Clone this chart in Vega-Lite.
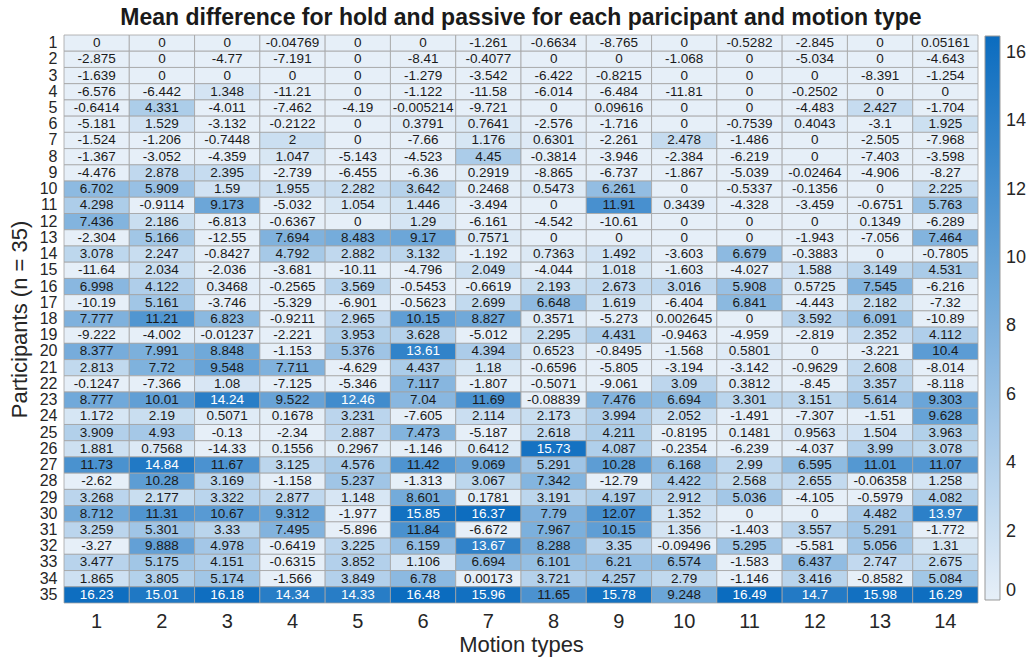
{
  "$schema": "https://vega.github.io/schema/vega-lite/v6.json",
  "autosize": {"type": "none"},
  "width": 914,
  "height": 568,
  "padding": {"left": 64, "top": 35, "right": 52, "bottom": 57},
  "background": "white",
  "config": {
    "font": "Liberation Sans",
    "view": {"stroke": null}
  },
  "title": {
    "text": "Mean difference for hold and passive for each paricipant and motion type",
    "fontSize": 23,
    "fontWeight": "bold",
    "font": "Liberation Sans",
    "color": "#1a1a1a",
    "anchor": "middle",
    "offset": 5
  },
  "data": {
    "values": [
      {"p":1,"m":1,"v":0},{"p":1,"m":2,"v":0},{"p":1,"m":3,"v":0},{"p":1,"m":4,"v":-0.04769},{"p":1,"m":5,"v":0},{"p":1,"m":6,"v":0},{"p":1,"m":7,"v":-1.261},{"p":1,"m":8,"v":-0.6634},{"p":1,"m":9,"v":-8.765},{"p":1,"m":10,"v":0},{"p":1,"m":11,"v":-0.5282},{"p":1,"m":12,"v":-2.845},{"p":1,"m":13,"v":0},{"p":1,"m":14,"v":0.05161},
      {"p":2,"m":1,"v":-2.875},{"p":2,"m":2,"v":0},{"p":2,"m":3,"v":-4.77},{"p":2,"m":4,"v":-7.191},{"p":2,"m":5,"v":0},{"p":2,"m":6,"v":-8.41},{"p":2,"m":7,"v":-0.4077},{"p":2,"m":8,"v":0},{"p":2,"m":9,"v":0},{"p":2,"m":10,"v":-1.068},{"p":2,"m":11,"v":0},{"p":2,"m":12,"v":-5.034},{"p":2,"m":13,"v":0},{"p":2,"m":14,"v":-4.643},
      {"p":3,"m":1,"v":-1.639},{"p":3,"m":2,"v":0},{"p":3,"m":3,"v":0},{"p":3,"m":4,"v":0},{"p":3,"m":5,"v":0},{"p":3,"m":6,"v":-1.279},{"p":3,"m":7,"v":-3.542},{"p":3,"m":8,"v":-6.422},{"p":3,"m":9,"v":-0.8215},{"p":3,"m":10,"v":0},{"p":3,"m":11,"v":0},{"p":3,"m":12,"v":0},{"p":3,"m":13,"v":-8.391},{"p":3,"m":14,"v":-1.254},
      {"p":4,"m":1,"v":-6.576},{"p":4,"m":2,"v":-6.442},{"p":4,"m":3,"v":1.348},{"p":4,"m":4,"v":-11.21},{"p":4,"m":5,"v":0},{"p":4,"m":6,"v":-1.122},{"p":4,"m":7,"v":-11.58},{"p":4,"m":8,"v":-6.014},{"p":4,"m":9,"v":-6.484},{"p":4,"m":10,"v":-11.81},{"p":4,"m":11,"v":0},{"p":4,"m":12,"v":-0.2502},{"p":4,"m":13,"v":0},{"p":4,"m":14,"v":0},
      {"p":5,"m":1,"v":-0.6414},{"p":5,"m":2,"v":4.331},{"p":5,"m":3,"v":-4.011},{"p":5,"m":4,"v":-7.462},{"p":5,"m":5,"v":-4.19},{"p":5,"m":6,"v":-0.005214},{"p":5,"m":7,"v":-9.721},{"p":5,"m":8,"v":0},{"p":5,"m":9,"v":0.09616},{"p":5,"m":10,"v":0},{"p":5,"m":11,"v":0},{"p":5,"m":12,"v":-4.483},{"p":5,"m":13,"v":2.427},{"p":5,"m":14,"v":-1.704},
      {"p":6,"m":1,"v":-5.181},{"p":6,"m":2,"v":1.529},{"p":6,"m":3,"v":-3.132},{"p":6,"m":4,"v":-0.2122},{"p":6,"m":5,"v":0},{"p":6,"m":6,"v":0.3791},{"p":6,"m":7,"v":0.7641},{"p":6,"m":8,"v":-2.576},{"p":6,"m":9,"v":-1.716},{"p":6,"m":10,"v":0},{"p":6,"m":11,"v":-0.7539},{"p":6,"m":12,"v":0.4043},{"p":6,"m":13,"v":-3.1},{"p":6,"m":14,"v":1.925},
      {"p":7,"m":1,"v":-1.524},{"p":7,"m":2,"v":-1.206},{"p":7,"m":3,"v":-0.7448},{"p":7,"m":4,"v":2},{"p":7,"m":5,"v":0},{"p":7,"m":6,"v":-7.66},{"p":7,"m":7,"v":1.176},{"p":7,"m":8,"v":0.6301},{"p":7,"m":9,"v":-2.261},{"p":7,"m":10,"v":2.478},{"p":7,"m":11,"v":-1.486},{"p":7,"m":12,"v":0},{"p":7,"m":13,"v":-2.505},{"p":7,"m":14,"v":-7.968},
      {"p":8,"m":1,"v":-1.367},{"p":8,"m":2,"v":-3.052},{"p":8,"m":3,"v":-4.359},{"p":8,"m":4,"v":1.047},{"p":8,"m":5,"v":-5.143},{"p":8,"m":6,"v":-4.523},{"p":8,"m":7,"v":4.45},{"p":8,"m":8,"v":-0.3814},{"p":8,"m":9,"v":-3.946},{"p":8,"m":10,"v":-2.384},{"p":8,"m":11,"v":-6.219},{"p":8,"m":12,"v":0},{"p":8,"m":13,"v":-7.403},{"p":8,"m":14,"v":-3.598},
      {"p":9,"m":1,"v":-4.476},{"p":9,"m":2,"v":2.878},{"p":9,"m":3,"v":2.395},{"p":9,"m":4,"v":-2.739},{"p":9,"m":5,"v":-6.455},{"p":9,"m":6,"v":-6.36},{"p":9,"m":7,"v":0.2919},{"p":9,"m":8,"v":-8.865},{"p":9,"m":9,"v":-6.737},{"p":9,"m":10,"v":-1.867},{"p":9,"m":11,"v":-5.039},{"p":9,"m":12,"v":-0.02464},{"p":9,"m":13,"v":-4.906},{"p":9,"m":14,"v":-8.27},
      {"p":10,"m":1,"v":6.702},{"p":10,"m":2,"v":5.909},{"p":10,"m":3,"v":1.59},{"p":10,"m":4,"v":1.955},{"p":10,"m":5,"v":2.282},{"p":10,"m":6,"v":3.642},{"p":10,"m":7,"v":0.2468},{"p":10,"m":8,"v":0.5473},{"p":10,"m":9,"v":6.261},{"p":10,"m":10,"v":0},{"p":10,"m":11,"v":-0.5337},{"p":10,"m":12,"v":-0.1356},{"p":10,"m":13,"v":0},{"p":10,"m":14,"v":2.225},
      {"p":11,"m":1,"v":4.298},{"p":11,"m":2,"v":-0.9114},{"p":11,"m":3,"v":9.173},{"p":11,"m":4,"v":-5.032},{"p":11,"m":5,"v":1.054},{"p":11,"m":6,"v":1.446},{"p":11,"m":7,"v":-3.494},{"p":11,"m":8,"v":0},{"p":11,"m":9,"v":11.91},{"p":11,"m":10,"v":0.3439},{"p":11,"m":11,"v":-4.328},{"p":11,"m":12,"v":-3.459},{"p":11,"m":13,"v":-0.6751},{"p":11,"m":14,"v":5.763},
      {"p":12,"m":1,"v":7.436},{"p":12,"m":2,"v":2.186},{"p":12,"m":3,"v":-6.813},{"p":12,"m":4,"v":-0.6367},{"p":12,"m":5,"v":0},{"p":12,"m":6,"v":1.29},{"p":12,"m":7,"v":-6.161},{"p":12,"m":8,"v":-4.542},{"p":12,"m":9,"v":-10.61},{"p":12,"m":10,"v":0},{"p":12,"m":11,"v":0},{"p":12,"m":12,"v":0},{"p":12,"m":13,"v":0.1349},{"p":12,"m":14,"v":-6.289},
      {"p":13,"m":1,"v":-2.304},{"p":13,"m":2,"v":5.166},{"p":13,"m":3,"v":-12.55},{"p":13,"m":4,"v":7.694},{"p":13,"m":5,"v":8.483},{"p":13,"m":6,"v":9.17},{"p":13,"m":7,"v":0.7571},{"p":13,"m":8,"v":0},{"p":13,"m":9,"v":0},{"p":13,"m":10,"v":0},{"p":13,"m":11,"v":0},{"p":13,"m":12,"v":-1.943},{"p":13,"m":13,"v":-7.056},{"p":13,"m":14,"v":7.464},
      {"p":14,"m":1,"v":3.078},{"p":14,"m":2,"v":2.247},{"p":14,"m":3,"v":-0.8427},{"p":14,"m":4,"v":4.792},{"p":14,"m":5,"v":2.882},{"p":14,"m":6,"v":3.132},{"p":14,"m":7,"v":-1.192},{"p":14,"m":8,"v":0.7363},{"p":14,"m":9,"v":1.492},{"p":14,"m":10,"v":-3.603},{"p":14,"m":11,"v":6.679},{"p":14,"m":12,"v":-0.3883},{"p":14,"m":13,"v":0},{"p":14,"m":14,"v":-0.7805},
      {"p":15,"m":1,"v":-11.64},{"p":15,"m":2,"v":2.034},{"p":15,"m":3,"v":-2.036},{"p":15,"m":4,"v":-3.681},{"p":15,"m":5,"v":-10.11},{"p":15,"m":6,"v":-4.796},{"p":15,"m":7,"v":2.049},{"p":15,"m":8,"v":-4.044},{"p":15,"m":9,"v":1.018},{"p":15,"m":10,"v":-1.603},{"p":15,"m":11,"v":-4.027},{"p":15,"m":12,"v":1.588},{"p":15,"m":13,"v":3.149},{"p":15,"m":14,"v":4.531},
      {"p":16,"m":1,"v":6.998},{"p":16,"m":2,"v":4.122},{"p":16,"m":3,"v":0.3468},{"p":16,"m":4,"v":-0.2565},{"p":16,"m":5,"v":3.569},{"p":16,"m":6,"v":-0.5453},{"p":16,"m":7,"v":-0.6619},{"p":16,"m":8,"v":2.193},{"p":16,"m":9,"v":2.673},{"p":16,"m":10,"v":3.016},{"p":16,"m":11,"v":5.908},{"p":16,"m":12,"v":0.5725},{"p":16,"m":13,"v":7.545},{"p":16,"m":14,"v":-6.216},
      {"p":17,"m":1,"v":-10.19},{"p":17,"m":2,"v":5.161},{"p":17,"m":3,"v":-3.746},{"p":17,"m":4,"v":-5.329},{"p":17,"m":5,"v":-6.901},{"p":17,"m":6,"v":-0.5623},{"p":17,"m":7,"v":2.699},{"p":17,"m":8,"v":6.648},{"p":17,"m":9,"v":1.619},{"p":17,"m":10,"v":-6.404},{"p":17,"m":11,"v":6.841},{"p":17,"m":12,"v":-4.443},{"p":17,"m":13,"v":2.182},{"p":17,"m":14,"v":-7.32},
      {"p":18,"m":1,"v":7.777},{"p":18,"m":2,"v":11.21},{"p":18,"m":3,"v":6.823},{"p":18,"m":4,"v":-0.9211},{"p":18,"m":5,"v":2.965},{"p":18,"m":6,"v":10.15},{"p":18,"m":7,"v":8.827},{"p":18,"m":8,"v":0.3571},{"p":18,"m":9,"v":-5.273},{"p":18,"m":10,"v":0.002645},{"p":18,"m":11,"v":0},{"p":18,"m":12,"v":3.592},{"p":18,"m":13,"v":6.091},{"p":18,"m":14,"v":-10.89},
      {"p":19,"m":1,"v":-9.222},{"p":19,"m":2,"v":-4.002},{"p":19,"m":3,"v":-0.01237},{"p":19,"m":4,"v":-2.221},{"p":19,"m":5,"v":3.953},{"p":19,"m":6,"v":3.628},{"p":19,"m":7,"v":-5.012},{"p":19,"m":8,"v":2.295},{"p":19,"m":9,"v":4.431},{"p":19,"m":10,"v":-0.9463},{"p":19,"m":11,"v":-4.959},{"p":19,"m":12,"v":-2.819},{"p":19,"m":13,"v":2.352},{"p":19,"m":14,"v":4.112},
      {"p":20,"m":1,"v":8.377},{"p":20,"m":2,"v":7.991},{"p":20,"m":3,"v":8.848},{"p":20,"m":4,"v":-1.153},{"p":20,"m":5,"v":5.376},{"p":20,"m":6,"v":13.61},{"p":20,"m":7,"v":4.394},{"p":20,"m":8,"v":0.6523},{"p":20,"m":9,"v":-0.8495},{"p":20,"m":10,"v":-1.568},{"p":20,"m":11,"v":0.5801},{"p":20,"m":12,"v":0},{"p":20,"m":13,"v":-3.221},{"p":20,"m":14,"v":10.4},
      {"p":21,"m":1,"v":2.813},{"p":21,"m":2,"v":7.72},{"p":21,"m":3,"v":9.548},{"p":21,"m":4,"v":7.711},{"p":21,"m":5,"v":-4.629},{"p":21,"m":6,"v":4.437},{"p":21,"m":7,"v":1.18},{"p":21,"m":8,"v":-0.6596},{"p":21,"m":9,"v":-5.805},{"p":21,"m":10,"v":-3.194},{"p":21,"m":11,"v":-3.142},{"p":21,"m":12,"v":-0.9629},{"p":21,"m":13,"v":2.608},{"p":21,"m":14,"v":-8.014},
      {"p":22,"m":1,"v":-0.1247},{"p":22,"m":2,"v":-7.366},{"p":22,"m":3,"v":1.08},{"p":22,"m":4,"v":-7.125},{"p":22,"m":5,"v":-5.346},{"p":22,"m":6,"v":7.117},{"p":22,"m":7,"v":-1.807},{"p":22,"m":8,"v":-0.5071},{"p":22,"m":9,"v":-9.061},{"p":22,"m":10,"v":3.09},{"p":22,"m":11,"v":0.3812},{"p":22,"m":12,"v":-8.45},{"p":22,"m":13,"v":3.357},{"p":22,"m":14,"v":-8.118},
      {"p":23,"m":1,"v":8.777},{"p":23,"m":2,"v":10.01},{"p":23,"m":3,"v":14.24},{"p":23,"m":4,"v":9.522},{"p":23,"m":5,"v":12.46},{"p":23,"m":6,"v":7.04},{"p":23,"m":7,"v":11.69},{"p":23,"m":8,"v":-0.08839},{"p":23,"m":9,"v":7.476},{"p":23,"m":10,"v":6.694},{"p":23,"m":11,"v":3.301},{"p":23,"m":12,"v":3.151},{"p":23,"m":13,"v":5.614},{"p":23,"m":14,"v":9.303},
      {"p":24,"m":1,"v":1.172},{"p":24,"m":2,"v":2.19},{"p":24,"m":3,"v":0.5071},{"p":24,"m":4,"v":0.1678},{"p":24,"m":5,"v":3.231},{"p":24,"m":6,"v":-7.605},{"p":24,"m":7,"v":2.114},{"p":24,"m":8,"v":2.173},{"p":24,"m":9,"v":3.994},{"p":24,"m":10,"v":2.052},{"p":24,"m":11,"v":-1.491},{"p":24,"m":12,"v":-7.307},{"p":24,"m":13,"v":-1.51},{"p":24,"m":14,"v":9.628},
      {"p":25,"m":1,"v":3.909},{"p":25,"m":2,"v":4.93},{"p":25,"m":3,"v":-0.13},{"p":25,"m":4,"v":-2.34},{"p":25,"m":5,"v":2.887},{"p":25,"m":6,"v":7.473},{"p":25,"m":7,"v":-5.187},{"p":25,"m":8,"v":2.618},{"p":25,"m":9,"v":4.211},{"p":25,"m":10,"v":-0.8195},{"p":25,"m":11,"v":0.1481},{"p":25,"m":12,"v":0.9563},{"p":25,"m":13,"v":1.504},{"p":25,"m":14,"v":3.963},
      {"p":26,"m":1,"v":1.881},{"p":26,"m":2,"v":0.7568},{"p":26,"m":3,"v":-14.33},{"p":26,"m":4,"v":0.1556},{"p":26,"m":5,"v":0.2967},{"p":26,"m":6,"v":-1.146},{"p":26,"m":7,"v":0.6412},{"p":26,"m":8,"v":15.73},{"p":26,"m":9,"v":4.087},{"p":26,"m":10,"v":-0.2354},{"p":26,"m":11,"v":-6.239},{"p":26,"m":12,"v":-4.037},{"p":26,"m":13,"v":3.99},{"p":26,"m":14,"v":3.078},
      {"p":27,"m":1,"v":11.73},{"p":27,"m":2,"v":14.84},{"p":27,"m":3,"v":11.67},{"p":27,"m":4,"v":3.125},{"p":27,"m":5,"v":4.576},{"p":27,"m":6,"v":11.42},{"p":27,"m":7,"v":9.069},{"p":27,"m":8,"v":5.291},{"p":27,"m":9,"v":10.28},{"p":27,"m":10,"v":6.168},{"p":27,"m":11,"v":2.99},{"p":27,"m":12,"v":6.595},{"p":27,"m":13,"v":11.01},{"p":27,"m":14,"v":11.07},
      {"p":28,"m":1,"v":-2.62},{"p":28,"m":2,"v":10.28},{"p":28,"m":3,"v":3.169},{"p":28,"m":4,"v":-1.158},{"p":28,"m":5,"v":5.237},{"p":28,"m":6,"v":-1.313},{"p":28,"m":7,"v":3.067},{"p":28,"m":8,"v":7.342},{"p":28,"m":9,"v":-12.79},{"p":28,"m":10,"v":4.422},{"p":28,"m":11,"v":2.568},{"p":28,"m":12,"v":2.655},{"p":28,"m":13,"v":-0.06358},{"p":28,"m":14,"v":1.258},
      {"p":29,"m":1,"v":3.268},{"p":29,"m":2,"v":2.177},{"p":29,"m":3,"v":3.322},{"p":29,"m":4,"v":2.877},{"p":29,"m":5,"v":1.148},{"p":29,"m":6,"v":8.601},{"p":29,"m":7,"v":0.1781},{"p":29,"m":8,"v":3.191},{"p":29,"m":9,"v":4.197},{"p":29,"m":10,"v":2.912},{"p":29,"m":11,"v":5.036},{"p":29,"m":12,"v":-4.105},{"p":29,"m":13,"v":-0.5979},{"p":29,"m":14,"v":4.082},
      {"p":30,"m":1,"v":8.712},{"p":30,"m":2,"v":11.31},{"p":30,"m":3,"v":10.67},{"p":30,"m":4,"v":9.312},{"p":30,"m":5,"v":-1.977},{"p":30,"m":6,"v":15.85},{"p":30,"m":7,"v":16.37},{"p":30,"m":8,"v":7.79},{"p":30,"m":9,"v":12.07},{"p":30,"m":10,"v":1.352},{"p":30,"m":11,"v":0},{"p":30,"m":12,"v":0},{"p":30,"m":13,"v":4.482},{"p":30,"m":14,"v":13.97},
      {"p":31,"m":1,"v":3.259},{"p":31,"m":2,"v":5.301},{"p":31,"m":3,"v":3.33},{"p":31,"m":4,"v":7.495},{"p":31,"m":5,"v":-5.896},{"p":31,"m":6,"v":11.84},{"p":31,"m":7,"v":-6.672},{"p":31,"m":8,"v":7.967},{"p":31,"m":9,"v":10.15},{"p":31,"m":10,"v":1.356},{"p":31,"m":11,"v":-1.403},{"p":31,"m":12,"v":3.557},{"p":31,"m":13,"v":5.291},{"p":31,"m":14,"v":-1.772},
      {"p":32,"m":1,"v":-3.27},{"p":32,"m":2,"v":9.888},{"p":32,"m":3,"v":4.978},{"p":32,"m":4,"v":-0.6419},{"p":32,"m":5,"v":3.225},{"p":32,"m":6,"v":6.159},{"p":32,"m":7,"v":13.67},{"p":32,"m":8,"v":8.288},{"p":32,"m":9,"v":3.35},{"p":32,"m":10,"v":-0.09496},{"p":32,"m":11,"v":5.295},{"p":32,"m":12,"v":-5.581},{"p":32,"m":13,"v":5.056},{"p":32,"m":14,"v":1.31},
      {"p":33,"m":1,"v":3.477},{"p":33,"m":2,"v":5.175},{"p":33,"m":3,"v":4.151},{"p":33,"m":4,"v":-0.6315},{"p":33,"m":5,"v":3.852},{"p":33,"m":6,"v":1.106},{"p":33,"m":7,"v":6.694},{"p":33,"m":8,"v":6.101},{"p":33,"m":9,"v":6.21},{"p":33,"m":10,"v":6.574},{"p":33,"m":11,"v":-1.583},{"p":33,"m":12,"v":6.437},{"p":33,"m":13,"v":2.747},{"p":33,"m":14,"v":2.675},
      {"p":34,"m":1,"v":1.865},{"p":34,"m":2,"v":3.805},{"p":34,"m":3,"v":5.174},{"p":34,"m":4,"v":-1.566},{"p":34,"m":5,"v":3.849},{"p":34,"m":6,"v":6.78},{"p":34,"m":7,"v":0.00173},{"p":34,"m":8,"v":3.721},{"p":34,"m":9,"v":4.257},{"p":34,"m":10,"v":2.79},{"p":34,"m":11,"v":-1.146},{"p":34,"m":12,"v":3.416},{"p":34,"m":13,"v":-0.8582},{"p":34,"m":14,"v":5.084},
      {"p":35,"m":1,"v":16.23},{"p":35,"m":2,"v":15.01},{"p":35,"m":3,"v":16.18},{"p":35,"m":4,"v":14.34},{"p":35,"m":5,"v":14.33},{"p":35,"m":6,"v":16.48},{"p":35,"m":7,"v":15.96},{"p":35,"m":8,"v":11.65},{"p":35,"m":9,"v":15.78},{"p":35,"m":10,"v":9.248},{"p":35,"m":11,"v":16.49},{"p":35,"m":12,"v":14.7},{"p":35,"m":13,"v":15.98},{"p":35,"m":14,"v":16.29}
    ]
  },
  "encoding": {
    "x": {
      "field": "m",
      "type": "ordinal",
      "sort": "ascending",
      "scale": {"paddingInner": 0, "paddingOuter": 0},
      "axis": {
        "title": "Motion types",
        "titleFontSize": 22,
        "titleFontWeight": "normal",
        "titleColor": "#262626",
        "titlePadding": 3,
        "labelFontSize": 20,
        "labelColor": "#262626",
        "labelAngle": 0,
        "labelPadding": 8,
        "ticks": false,
        "domain": false
      }
    },
    "y": {
      "field": "p",
      "type": "ordinal",
      "sort": "ascending",
      "scale": {"paddingInner": 0, "paddingOuter": 0},
      "axis": {
        "title": "Participants (n = 35)",
        "titleFontSize": 22,
        "titleFontWeight": "normal",
        "titleColor": "#262626",
        "titlePadding": 8,
        "labelFontSize": 16,
        "labelColor": "#262626",
        "labelPadding": 7,
        "labelOverlap": false,
        "ticks": false,
        "domain": false
      }
    }
  },
  "layer": [
    {
      "mark": {"type": "rect", "stroke": "#a3a3a3", "strokeWidth": 0.8},
      "encoding": {
        "color": {
          "field": "v",
          "type": "quantitative",
          "scale": {
            "domain": [0, 16.49],
            "clamp": true,
            "range": ["#e6eff8", "#0b6cbf"],
            "interpolate": "rgb"
          },
          "legend": {
            "title": null,
            "orient": "none",
            "direction": "vertical",
            "legendX": 921,
            "legendY": 1,
            "gradientLength": 564,
            "gradientThickness": 15,
            "gradientStrokeColor": "#999999",
            "gradientStrokeWidth": 1,
            "values": [0, 2, 4, 6, 8, 10, 12, 14, 16],
            "labelFontSize": 18,
            "labelColor": "#262626",
            "labelOffset": 6,
            "labelOverlap": false
          }
        }
      }
    },
    {
      "mark": {"type": "text", "fontSize": 13.5, "font": "Liberation Sans"},
      "encoding": {
        "text": {"field": "v", "type": "nominal"},
        "color": {
          "condition": {"test": "datum.v > 12.3", "value": "#ffffff"},
          "value": "#1a1a1a"
        }
      }
    }
  ]
}
